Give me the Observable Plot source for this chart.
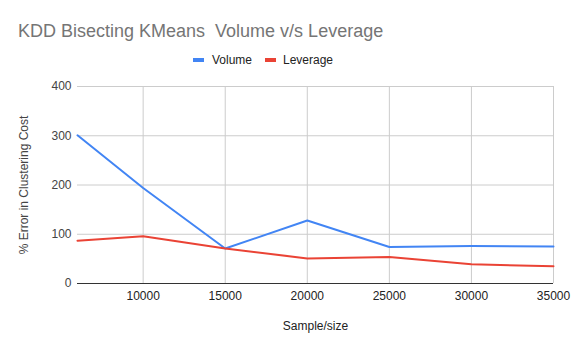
<!DOCTYPE html>
<html>
<head>
<meta charset="utf-8">
<script src="https://cdn.jsdelivr.net/npm/d3@7"></script>
<script src="https://cdn.jsdelivr.net/npm/@observablehq/plot@0.6"></script>
<style>
  html, body { margin: 0; padding: 0; background: #fff; }
  #wrap { position: relative; width: 571px; height: 353px; font-family: "Liberation Sans", Arial, sans-serif; }
  #header { position: relative; width: 571px; height: 72px; }
  #title { position: absolute; left: 18px; top: 22px; font-size: 18px; line-height: 18px; color: #757575; white-space: pre; }
  .lg { position: absolute; top: 54px; font-size: 12px; line-height: 12px; color: #222; white-space: pre; }
  .sw { position: absolute; top: 58px; width: 11px; height: 4px; }
</style>
</head>
<body>
<div id="wrap">
  <div id="header"></div>
  <div id="chart"></div>
</div>
<script>
const title = "KDD Bisecting KMeans  Volume v/s Leverage";
const seriesNames = ["Volume", "Leverage"];
const seriesColors = ["#4285F4", "#EA4335"];
const samples = [6000, 10000, 15000, 20000, 25000, 30000, 35000];
const volume = [301, 194, 71, 128, 74, 76, 75];
const leverage = [87, 96, 71, 51, 54, 39, 35];
const xTicks = [10000, 15000, 20000, 25000, 30000, 35000];
const yTicks = [0, 100, 200, 300, 400];
const xLabel = "Sample/size";
const yLabel = "% Error in Clustering Cost";

// header: title + legend
const header = document.getElementById("header");
const t = document.createElement("div");
t.id = "title"; t.textContent = title; header.appendChild(t);
const legendPos = [{sw: 193, tx: 212}, {sw: 265, tx: 283}];
seriesNames.forEach((name, i) => {
  const s = document.createElement("div");
  s.className = "sw"; s.style.left = legendPos[i].sw + "px"; s.style.background = seriesColors[i];
  header.appendChild(s);
  const l = document.createElement("div");
  l.className = "lg"; l.style.left = legendPos[i].tx + "px"; l.textContent = name;
  header.appendChild(l);
});

const data = [];
samples.forEach((s, i) => {
  data.push({sample: s, value: volume[i], series: seriesNames[0]});
});
samples.forEach((s, i) => {
  data.push({sample: s, value: leverage[i], series: seriesNames[1]});
});

const chart = Plot.plot({
  width: 571,
  height: 281,
  marginTop: 14,
  marginBottom: 70,
  marginLeft: 77,
  marginRight: 18,
  style: {fontFamily: "'Liberation Sans', Arial, sans-serif", fontSize: "12px", color: "#444", background: "#fff"},
  x: {domain: [6000, 35000], ticks: xTicks, tickFormat: d => String(d)},
  y: {domain: [0, 400], ticks: yTicks},
  color: {domain: seriesNames, range: seriesColors},
  marks: [
    Plot.ruleY(yTicks.filter(d => d > 0), {stroke: "#cccccc", strokeWidth: 1}),
    Plot.ruleX(xTicks, {stroke: "#cccccc", strokeWidth: 1}),
    Plot.ruleY([0], {stroke: "#333333", strokeWidth: 1}),
    Plot.axisX({ticks: xTicks, tickSize: 0, tickPadding: 8, fontSize: 12, tickFormat: d => String(d), fill: "#222", label: xLabel, labelAnchor: "center", labelArrow: "none", labelOffset: 46}),
    Plot.axisY({ticks: yTicks, tickSize: 0, tickPadding: 6, fontSize: 12, fill: "#444", label: yLabel, labelAnchor: "center", labelArrow: "none", labelOffset: 58}),
    Plot.line(data, {x: "sample", y: "value", z: "series", stroke: "series", strokeWidth: 2, curve: "linear"})
  ]
});
document.getElementById("chart").appendChild(chart);
</script>
</body>
</html>
